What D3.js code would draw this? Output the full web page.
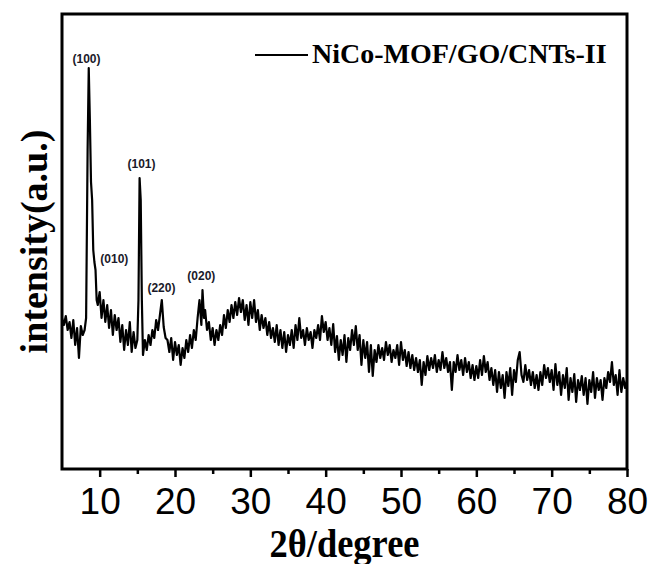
<!DOCTYPE html>
<html>
<head>
<meta charset="utf-8">
<script src="https://cdn.jsdelivr.net/npm/d3@7"></script>
<style>
  body { margin: 0; background: #fff; }
  svg { display: block; }
</style>
</head>
<body>
<script>
//Width and height
var w = 650;
var h = 564;
var margin = { top: 14, right: 23, bottom: 95, left: 62 };

// XRD pattern, 2theta (degree) and intensity (a.u.)
var twoTheta = [
  5, 5.25, 5.5, 5.75, 6, 6.25, 6.5, 6.75, 7, 7.25, 7.5, 7.75, 8,
  8.2, 8.4, 8.55, 8.7, 8.85, 9, 9.15, 9.3, 9.45, 9.6,
  9.75, 10, 10.25, 10.5, 10.75, 11, 11.25, 11.5, 11.75, 12, 12.25, 12.5, 12.75,
  13, 13.25, 13.5, 13.75, 14, 14.25, 14.5, 14.75, 15,
  15.15, 15.3, 15.45, 15.6, 15.75,
  16, 16.25, 16.5, 16.75, 17, 17.25, 17.5, 17.75, 18, 18.25, 18.5, 18.75,
  19, 19.25, 19.5, 19.75, 20, 20.25, 20.5, 20.75, 21, 21.25, 21.5, 21.75,
  22, 22.25, 22.5, 22.75, 23, 23.25, 23.5, 23.65, 23.85, 24,
  24.25, 24.5, 24.75, 25, 25.25, 25.5, 25.75, 26, 26.25, 26.5, 26.75,
  27, 27.25, 27.5, 27.75, 28, 28.25, 28.5, 28.75, 29, 29.25, 29.5, 29.75,
  30, 30.25, 30.5, 30.75, 31, 31.25, 31.5, 31.75, 32, 32.25, 32.5, 32.75,
  33, 33.25, 33.5, 33.75, 34, 34.25, 34.5, 34.75, 35, 35.25, 35.5, 35.75,
  36, 36.25, 36.5, 36.75, 37, 37.25, 37.5, 37.75, 38, 38.25, 38.5, 38.75,
  39, 39.25, 39.5, 39.75, 40, 40.25, 40.5, 40.75, 41, 41.25, 41.5, 41.75,
  42, 42.25, 42.5, 42.75, 43, 43.25, 43.5, 43.75, 44, 44.25, 44.5, 44.75,
  45, 45.25, 45.5, 45.75, 46, 46.25, 46.5, 46.75, 47, 47.25, 47.5, 47.75,
  48, 48.25, 48.5, 48.75, 49, 49.25, 49.5, 49.75, 50, 50.25, 50.5, 50.75,
  51, 51.25, 51.5, 51.75, 52, 52.25, 52.5, 52.75, 53, 53.25, 53.5, 53.75,
  54, 54.25, 54.5, 54.75, 55, 55.25, 55.5, 55.75, 56, 56.25, 56.5, 56.75,
  57, 57.25, 57.5, 57.75, 58, 58.25, 58.5, 58.75, 59, 59.25, 59.5, 59.75,
  60, 60.25, 60.5, 60.75, 61, 61.25, 61.5, 61.75, 62, 62.25, 62.5, 62.75,
  63, 63.25, 63.5, 63.75, 64, 64.25, 64.5, 64.75, 65, 65.25, 65.5, 65.75,
  66, 66.25, 66.5, 66.75, 67, 67.25, 67.5, 67.75, 68, 68.25, 68.5, 68.75,
  69, 69.25, 69.5, 69.75, 70, 70.25, 70.5, 70.75, 71, 71.25, 71.5, 71.75,
  72, 72.25, 72.5, 72.75, 73, 73.25, 73.5, 73.75, 74, 74.25, 74.5, 74.75,
  75, 75.25, 75.5, 75.75, 76, 76.25, 76.5, 76.75, 77, 77.25, 77.5, 77.75,
  78, 78.25, 78.5, 78.75, 79, 79.25, 79.5, 79.75, 80
];

var intensity = [
  151, 144, 153, 139, 147, 131, 149, 124, 141, 111, 143, 134, 139,
  151, 319, 401, 349, 287, 269, 219, 207, 199, 169,
  164, 177, 151, 169, 147, 164, 141, 159, 134, 154, 139, 151, 127,
  144, 119, 139, 124, 147, 117, 137, 121, 129,
  169, 291, 269, 169, 114,
  129, 119, 134, 124, 139, 131, 149, 139, 154, 169, 142, 131,
  129, 117, 131, 109, 127, 114, 124, 104, 121, 111, 129, 117,
  134, 121, 139, 129, 151, 169, 144, 179, 151, 159,
  139, 147, 129, 141, 124, 139, 129, 144, 134, 154, 141,
  159, 147, 164, 151, 167, 154, 171, 157, 169, 149, 164, 144,
  167, 151, 169, 147, 159, 139, 154, 141, 151, 134, 147, 131,
  141, 127, 144, 124, 139, 121, 137, 117, 134, 124, 139, 121,
  144, 129, 151, 131, 139, 124, 141, 129, 137, 121, 139, 131,
  144, 129, 153, 137, 147, 129, 141, 124, 145, 117, 133, 109,
  129, 114, 134, 107, 131, 119, 139, 124, 143, 119, 134, 104,
  129, 111, 127, 97, 124, 93, 119, 107, 124, 111, 121, 109,
  127, 114, 124, 107, 119, 111, 124, 104, 127, 109, 119, 103,
  117, 101, 114, 99, 111, 97, 109, 84, 107, 94, 113, 99,
  111, 101, 114, 97, 109, 99, 117, 101, 111, 97, 107, 79,
  107, 97, 114, 99, 109, 94, 111, 97, 107, 91, 104, 89,
  103, 91, 109, 94, 113, 97, 107, 89, 101, 84, 99, 77,
  97, 81, 94, 71, 97, 83, 101, 74, 99, 87, 109, 117,
  94, 87, 104, 89, 99, 84, 97, 81, 94, 79, 97, 84,
  104, 91, 101, 87, 99, 79, 105, 84, 97, 74, 94, 81,
  101, 69, 91, 77, 95, 67, 89, 79, 93, 74, 91, 65,
  89, 77, 97, 71, 91, 79, 89, 69, 91, 81, 97, 87,
  107, 84, 94, 74, 99, 77, 91, 81, 89
];

// peak indexing (label text, 2theta and intensity of the label)
var peakNames = ["(100)", "(010)", "(101)", "(220)", "(020)"];
var peakAngles = [8.25, 11.95, 15.55, 18.2, 23.5];
var peakLevels = [406, 206, 301, 177, 189];

var seriesName = "NiCo-MOF/GO/CNTs-II";
var majorTicks = [10, 20, 30, 40, 50, 60, 70, 80];
var minorTicks = [15, 25, 35, 45, 55, 65, 75];

var data = twoTheta.map(function(t, i) {
    return { t: t, v: intensity[i] };
});

var xScale = d3.scaleLinear()
    .domain([5, 80])
    .range([margin.left, w - margin.right]);

var yScale = d3.scaleLinear()
    .domain([0, 455])
    .range([h - margin.bottom, margin.top]);

//Create SVG element
var svg = d3.select("body")
    .append("svg")
    .attr("width", w)
    .attr("height", h);

var line = d3.line()
    .x(function(d) { return xScale(d.t); })
    .y(function(d) { return yScale(d.v); });

svg.append("path")
    .datum(data)
    .attr("d", line)
    .attr("fill", "none")
    .attr("stroke", "#000")
    .attr("stroke-width", 2.2)
    .attr("stroke-linejoin", "round");

// frame
svg.append("rect")
    .attr("x", margin.left)
    .attr("y", margin.top)
    .attr("width", w - margin.left - margin.right)
    .attr("height", h - margin.top - margin.bottom)
    .attr("fill", "none")
    .attr("stroke", "#000")
    .attr("stroke-width", 3);

// x axis, major + minor ticks
var xAxis = svg.append("g")
    .attr("transform", "translate(0," + (h - margin.bottom) + ")")
    .call(d3.axisBottom(xScale)
        .tickValues(majorTicks)
        .tickSizeInner(8)
        .tickSizeOuter(0)
        .tickPadding(11));

xAxis.select(".domain").remove();
xAxis.selectAll("line").attr("stroke-width", 2.5);
xAxis.selectAll("text")
    .attr("font-family", "'Liberation Sans', Arial, sans-serif")
    .attr("font-size", "37px")
    .attr("fill", "#000");

var xMinor = svg.append("g")
    .attr("transform", "translate(0," + (h - margin.bottom) + ")")
    .call(d3.axisBottom(xScale)
        .tickValues(minorTicks)
        .tickSizeInner(5)
        .tickSizeOuter(0)
        .tickFormat(""));

xMinor.select(".domain").remove();
xMinor.selectAll("line").attr("stroke-width", 2.5);

// axis titles
svg.append("text")
    .attr("x", (xScale(5) + xScale(80)) / 2)
    .attr("y", 557)
    .attr("text-anchor", "middle")
    .attr("font-family", "'Liberation Serif', 'Times New Roman', serif")
    .attr("font-weight", "bold")
    .attr("font-size", "39px")
    .attr("textLength", 150)
    .attr("lengthAdjust", "spacingAndGlyphs")
    .text("2\u03b8/degree");

svg.append("text")
    .attr("transform", "translate(47," + ((yScale(0) + yScale(455)) / 2) + ") rotate(-90)")
    .attr("text-anchor", "middle")
    .attr("font-family", "'Liberation Serif', 'Times New Roman', serif")
    .attr("font-weight", "bold")
    .attr("font-size", "38px")
    .text("intensity(a.u.)");

// legend
svg.append("line")
    .attr("x1", 255)
    .attr("x2", 308)
    .attr("y1", 55)
    .attr("y2", 55)
    .attr("stroke", "#000")
    .attr("stroke-width", 2);

svg.append("text")
    .attr("x", 312)
    .attr("y", 63)
    .attr("font-family", "'Liberation Serif', 'Times New Roman', serif")
    .attr("font-weight", "bold")
    .attr("font-size", "28px")
    .text(seriesName);

// peak labels
svg.selectAll("text.peak")
    .data(peakNames)
    .enter()
    .append("text")
    .attr("class", "peak")
    .attr("x", function(d, i) { return xScale(peakAngles[i]); })
    .attr("y", function(d, i) { return yScale(peakLevels[i]); })
    .attr("text-anchor", "middle")
    .attr("font-family", "'Liberation Sans', Arial, sans-serif")
    .attr("font-weight", "bold")
    .attr("font-size", "12px")
    .attr("fill", "#1a1a2a")
    .text(function(d) { return d; });
</script>
</body>
</html>
